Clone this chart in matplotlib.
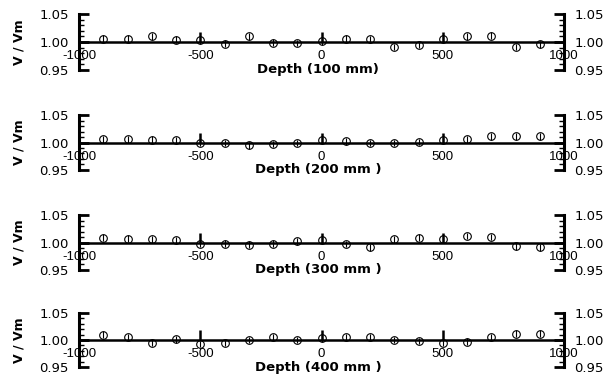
import numpy as np
import matplotlib.pyplot as plt
from matplotlib.ticker import MultipleLocator

plt.rcParams['font.family'] = ['Liberation Sans', 'DejaVu Sans']

depth = [-900, -800, -700, -600, -500, -400, -300, -200, -100,
         0, 100, 200, 300, 400, 500, 600, 700, 800, 900]

ratio_100 = [1.006, 1.006, 1.010, 1.004, 1.003, 0.997, 1.010, 0.999, 0.998,
             1.001, 1.006, 1.005, 0.991, 0.995, 1.005, 1.010, 1.011, 0.991, 0.996]
ratio_200 = [1.006, 1.006, 1.005, 1.004, 1.000, 0.999, 0.995, 0.997, 0.999,
             1.004, 1.002, 0.999, 0.999, 1.001, 1.004, 1.006, 1.011, 1.011, 1.011]
ratio_300 = [1.009, 1.007, 1.006, 1.004, 0.997, 0.998, 0.996, 0.998, 1.002,
             1.004, 0.997, 0.991, 1.006, 1.009, 1.006, 1.012, 1.010, 0.993, 0.991]
ratio_400 = [1.010, 1.006, 0.995, 1.001, 0.993, 0.994, 1.000, 1.006, 1.000,
             1.003, 1.006, 1.006, 1.000, 0.998, 0.995, 0.997, 1.006, 1.012, 1.012]

panels = [('Depth (100 mm)', ratio_100),
          ('Depth (200 mm )', ratio_200),
          ('Depth (300 mm )', ratio_300),
          ('Depth (400 mm )', ratio_400)]

# panel (top, bottom) in pixels of the 613x376 figure
rows = [(14, 70), (115, 170), (215, 270), (313, 367)]

fig = plt.figure(figsize=(6.13, 3.76), dpi=100)
W, H = 613, 376
left, right = 79, 564

for (label, vals), (top, bot) in zip(panels, rows):
    ax = fig.add_axes([left / W, 1 - bot / H, (right - left) / W, (bot - top) / H])
    ax.errorbar(depth, vals, yerr=0.006, fmt='o', mfc='none', mec='black',
                ecolor='black', elinewidth=0.8, ms=5.5, mew=0.8, capsize=0, zorder=3)
    ax.set_xlim(-1000, 1000)
    ax.set_ylim(0.95, 1.05)
    ax.spines['top'].set_visible(False)
    ax.spines['bottom'].set_position(('data', 1.0))
    ax.spines['bottom'].set_linewidth(1.8)
    ax.spines['left'].set_linewidth(2.2)
    ax.spines['right'].set_linewidth(2.2)
    ax.set_xticks([-1000, -500, 0, 500, 1000])
    ax.set_xticklabels(['-1000', '-500', '0', '500', '1000'])
    ax.set_yticks([0.95, 1.00, 1.05])
    ax.set_yticklabels(['0.95', '1.00', '1.05'])
    ax.yaxis.set_minor_locator(MultipleLocator(0.01))
    ax.tick_params(axis='x', direction='in', length=7.5, width=1.8, pad=6,
                   labelsize=9.5)
    ax.tick_params(axis='y', which='major', direction='in', length=7, width=2,
                   left=True, right=True, labelleft=True, labelright=True,
                   labelsize=9.5, pad=7.5)
    ax.tick_params(axis='y', which='minor', direction='in', length=3.5, width=1,
                   left=True, right=True)
    for t in ax.get_yticklabels():
        t.set_fontfamily('DejaVu Sans')
    ax.set_ylabel('V / Vm', fontweight='bold', fontsize=9, family='DejaVu Sans')
    ax.yaxis.set_label_coords(-0.111, 0.5)
    ax.text(0.493, 0.0, label, transform=ax.transAxes, ha='center', va='center',
            fontweight='bold', fontsize=9.5, family='DejaVu Sans')
    ax.patch.set_alpha(0)

fig.savefig('out.png', dpi=100)
